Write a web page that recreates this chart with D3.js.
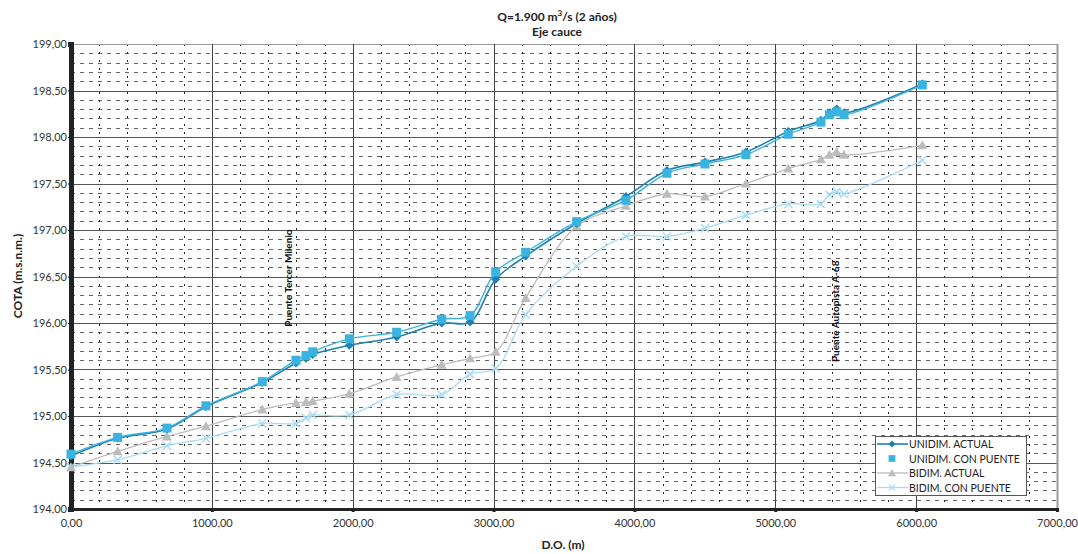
<!DOCTYPE html>
<html>
<head>
<meta charset="utf-8">
<script src="https://cdn.jsdelivr.net/npm/d3@7"></script>
<style>
  body { margin: 0; background: #fff; }
  text { font-family: Lato, "Open Sans", sans-serif; fill: #222; }
</style>
</head>
<body>
<div id="chart"></div>
<script>
// D.O. (m) of each cross section
var distances = [0, 331, 681, 958, 1358, 1597, 1668, 1716, 1976, 2312, 2632, 2833, 3015,
    3228, 3590, 3940, 4231, 4501, 4792, 5092, 5324, 5384, 5436, 5488, 6044];

var unidimActual = [194.57, 194.76, 194.86, 195.10, 195.36, 195.57, 195.62, 195.66, 195.76,
    195.85, 196.00, 196.01, 196.47, 196.72, 197.07, 197.36, 197.64, 197.73, 197.84, 198.06,
    198.18, 198.26, 198.30, 198.26, 198.57];
var unidimPuente = [194.59, 194.77, 194.87, 195.11, 195.37, 195.60, 195.65, 195.69, 195.83,
    195.90, 196.04, 196.08, 196.55, 196.76, 197.09, 197.32, 197.61, 197.71, 197.81, 198.03,
    198.16, 198.24, 198.27, 198.24, 198.56];
var bidimActual = [194.45, 194.62, 194.78, 194.89, 195.07, 195.14, 195.15, 195.16, 195.24,
    195.42, 195.55, 195.62, 195.69, 196.27, 197.04, 197.26, 197.39, 197.36, 197.50, 197.66,
    197.76, 197.81, 197.84, 197.81, 197.91];
var bidimPuente = [194.45, 194.53, 194.68, 194.76, 194.92, 194.92, 194.98, 195.01, 195.01,
    195.23, 195.23, 195.45, 195.51, 196.09, 196.61, 196.93, 196.93, 197.02, 197.16, 197.28,
    197.28, 197.38, 197.41, 197.39, 197.75];

var seriesNames = ["UNIDIM. ACTUAL", "UNIDIM. CON PUENTE", "BIDIM. ACTUAL", "BIDIM. CON PUENTE"];
var xTicks = [0, 1000, 2000, 3000, 4000, 5000, 6000, 7000];
var yTicks = [194, 194.5, 195, 195.5, 196, 196.5, 197, 197.5, 198, 198.5, 199];

var width = 1078, height = 554;
var margin = {top: 44, right: 21, bottom: 45, left: 71};

var svg = d3.select("#chart").append("svg")
    .attr("width", width)
    .attr("height", height);

var x = d3.scaleLinear().domain([0, 7000]).range([margin.left, width - margin.right]);
var y = d3.scaleLinear().domain([194, 199]).range([height - margin.bottom, margin.top]);

var fmt = function(v) { return d3.format(".2f")(v).replace(".", ","); };

// minor grid
var grid = svg.append("g");
grid.selectAll(".hmin")
    .data(d3.range(194.1, 199, 0.1).filter(v => Math.abs(v * 2 - Math.round(v * 2)) > 0.01))
    .enter().append("line")
    .attr("x1", x(0)).attr("x2", x(7000))
    .attr("y1", d => Math.round(y(d)) + 0.5).attr("y2", d => Math.round(y(d)) + 0.5)
    .attr("stroke", "#666").attr("stroke-dasharray", "4,5");
grid.selectAll(".vmin")
    .data(d3.range(200, 7000, 200).filter(v => v % 1000 !== 0))
    .enter().append("line")
    .attr("x1", d => Math.round(x(d)) + 0.5).attr("x2", d => Math.round(x(d)) + 0.5)
    .attr("y1", y(199)).attr("y2", y(194))
    .attr("stroke", "#222").attr("stroke-dasharray", "2,6");

// major grid
grid.selectAll(".hmaj")
    .data(yTicks.slice(1))
    .enter().append("line")
    .attr("x1", x(0)).attr("x2", x(7000))
    .attr("y1", d => Math.round(y(d)) + 0.5).attr("y2", d => Math.round(y(d)) + 0.5)
    .attr("stroke", d => d === 199 ? "#999" : "#555");
grid.selectAll(".vmaj")
    .data(xTicks.slice(1))
    .enter().append("line")
    .attr("x1", d => Math.round(x(d)) + 0.5).attr("x2", d => Math.round(x(d)) + 0.5)
    .attr("y1", y(199)).attr("y2", y(194))
    .attr("stroke", d => d === 7000 ? "#999" : "#444")
    .attr("stroke-width", d => d === 7000 ? 2 : 1);

// axes
var xAxis = svg.append("g")
    .attr("transform", "translate(0," + y(194) + ")")
    .call(d3.axisBottom(x).tickValues(xTicks).tickFormat(fmt).tickSize(3));
xAxis.select(".domain").attr("stroke", "#222").attr("stroke-width", 3);
xAxis.selectAll(".tick line").attr("stroke", "#222").attr("stroke-width", 3);
xAxis.selectAll("text").attr("font-size", 11).attr("dy", "1.1em").style("fill", "#333");

var yAxis = svg.append("g")
    .attr("transform", "translate(" + x(0) + ",0)")
    .call(d3.axisLeft(y).tickValues(yTicks).tickFormat(fmt).tickSize(3));
yAxis.select(".domain").attr("stroke", "#222").attr("stroke-width", 5);
yAxis.selectAll(".tick line").attr("stroke", "#222");
yAxis.selectAll("text").attr("font-size", 11).attr("x", -4).style("fill", "#333");

// titles
svg.append("text").attr("x", 557).attr("y", 21).attr("text-anchor", "middle")
    .attr("font-size", 12).attr("font-weight", "bold")
    .html('Q=1.900 m<tspan baseline-shift="super" font-size="8">3</tspan>/s (2 años)');
svg.append("text").attr("x", 557).attr("y", 36).attr("text-anchor", "middle")
    .attr("font-size", 12).attr("font-weight", "bold").text("Eje cauce");
svg.append("text").attr("x", 563).attr("y", 549).attr("text-anchor", "middle")
    .attr("font-size", 12).attr("font-weight", "bold").text("D.O. (m)");
svg.append("text").attr("transform", "translate(22,276) rotate(-90)").attr("text-anchor", "middle")
    .attr("font-size", 12).attr("font-weight", "bold").text("COTA (m.s.n.m.)");

// bridge labels
var bridges = [
    {name: "Puente Tercer Milenio", d: 1540, z: 195.96},
    {name: "Puente Autopista A-68", d: 5424, z: 195.58}
];
svg.selectAll(".bridge").data(bridges).enter().append("text")
    .attr("transform", d => "translate(" + (x(d.d) + 4) + "," + y(d.z) + ") rotate(-90)")
    .attr("font-size", 10).attr("font-weight", "bold").style("fill", "#111")
    .text(d => d.name);

// series
var series = [
    {name: seriesNames[3], values: bidimPuente, color: "#a9dcf4", width: 1.3, marker: "x"},
    {name: seriesNames[2], values: bidimActual, color: "#bcbcbc", width: 1.3, marker: "tri"},
    {name: seriesNames[0], values: unidimActual, color: "#1f82b0", width: 1.6, marker: "dia"},
    {name: seriesNames[1], values: unidimPuente, color: "#3bb3e0", width: 1.4, marker: "sq"}
];

var line = d3.line()
    .x((d, i) => x(distances[i]))
    .y(d => y(d))
    .curve(d3.curveCatmullRom.alpha(0.5));

function marker(sel, type, color) {
    if (type === "sq") {
        sel.append("rect").attr("x", -4.5).attr("y", -4.5).attr("width", 9).attr("height", 9)
            .attr("fill", color);
    } else if (type === "dia") {
        sel.append("path").attr("d", "M0,-4.5L4.5,0L0,4.5L-4.5,0Z").attr("fill", color);
    } else if (type === "tri") {
        sel.append("path").attr("d", "M0,-5L5,4L-5,4Z").attr("fill", color);
    } else {
        sel.append("path").attr("d", "M-4,-4L4,4M-4,4L4,-4")
            .attr("stroke", color).attr("stroke-width", 1.5).attr("fill", "none");
    }
}

series.forEach(function(s) {
    svg.append("path")
        .datum(s.values)
        .attr("d", line)
        .attr("fill", "none")
        .attr("stroke", s.color)
        .attr("stroke-width", s.width);
});
series.forEach(function(s) {
    svg.append("g").selectAll("g")
        .data(s.values)
        .enter().append("g")
        .attr("transform", (d, i) => "translate(" + x(distances[i]) + "," + y(d) + ")")
        .each(function() { marker(d3.select(this), s.marker, s.color); });
});

// legend
var legend = svg.append("g").attr("transform", "translate(875,436)");
legend.append("rect").attr("x", 0.5).attr("y", 0.5).attr("width", 151).attr("height", 59)
    .attr("fill", "#fff").attr("stroke", "#555");
var legendItems = [series[2], series[3], series[1], series[0]];
legendItems.forEach(function(s, i) {
    var row = legend.append("g").attr("transform", "translate(0," + (8 + i * 14.5) + ")");
    if (s.marker !== "sq") {
        row.append("line").attr("x1", 2).attr("x2", 33).attr("y1", 0).attr("y2", 0)
            .attr("stroke", s.color).attr("stroke-width", s.width);
    }
    var m = row.append("g").attr("transform", "translate(17,0) scale(" + (s.marker === "sq" ? 0.75 : 0.8) + ")");
    marker(m, s.marker, s.color);
    row.append("text").attr("x", 34).attr("y", 4).attr("font-size", 10.5)
        .style("fill", "#222").text(s.name);
});
</script>
</body>
</html>
